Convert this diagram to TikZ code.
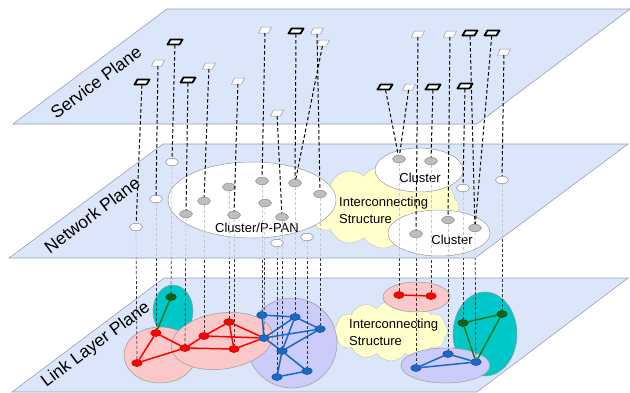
\documentclass[tikz,border=0pt]{standalone}
\usepackage{fontspec}
\setmainfont{Liberation Sans}
\usetikzlibrary{shapes.geometric,shapes.symbols}

\definecolor{planefill}{RGB}{220,230,250}
\definecolor{planeline}{RGB}{150,160,182}
\definecolor{cloudfill}{RGB}{255,255,204}
\definecolor{pinkfill}{RGB}{250,200,200}
\definecolor{tealfill}{RGB}{0,200,200}
\definecolor{lavfill}{RGB}{204,204,250}
\definecolor{panfill}{RGB}{190,190,190}
\definecolor{linkred}{RGB}{255,0,0}
\definecolor{linkblue}{RGB}{25,105,200}
\definecolor{linkgreen}{RGB}{25,120,25}

\pgfdeclarelayer{linkback}
\pgfdeclarelayer{downlinks}
\pgfdeclarelayer{netback}
\pgfsetlayers{linkback,downlinks,netback,main}

\tikzset{
  plane/.style={fill=planefill, draw=planeline, line width=0.6pt},
  planelabel/.style={rotate=36.7, font=\fontsize{17.5}{20}\selectfont},
  boxlabel/.style={font=\fontsize{13}{17}\selectfont, inner sep=0pt},
  cloudarea/.style={cloud, cloud puffs=12, cloud puff arc=110, cloud ignores aspect, fill=cloudfill, draw=black!22, line width=0.5pt},
  zone/.style={draw=black!40, line width=0.5pt},
  svcspot/.style={rectangle, minimum width=13pt, minimum height=6pt, inner sep=0pt},
  svcbold/.style={fill=white, draw=black, line width=1.8pt, line join=round},
  svcthin/.style={fill=white, draw=black!40, line width=0.5pt},
  pan/.style={ellipse, minimum width=13pt, minimum height=7.5pt, inner sep=0pt, draw=black!45, line width=0.5pt},
  pangray/.style={pan, fill=panfill},
  panwhite/.style={pan, fill=white},
  dev/.style={ellipse, minimum width=10.5pt, minimum height=7pt, inner sep=0pt, line width=0.5pt},
  devred/.style={dev, fill=linkred, draw=linkred!75!black},
  devblue/.style={dev, fill=linkblue, draw=linkblue!70!black},
  devgreen/.style={dev, fill=linkgreen!80!black, draw=linkgreen!60!black},
  redwire/.style={linkred, line width=1.5pt},
  bluewire/.style={linkblue, line width=1.5pt},
  greenwire/.style={linkgreen, line width=1.5pt},
  uplink/.style={black, line width=1pt, dash pattern=on 3.5pt off 2.5pt},
  downlink/.style={black!80, line width=0.7pt, dash pattern=on 3pt off 2pt},
  hiddenlink/.style={black!22, line width=0.7pt, dash pattern=on 3pt off 2pt}
}

\newcommand\downpairs{n1/g1, n2/r2, n3/r1, n4/r3, n5/r4, n6/r5, n9/r6, n7/b1, n8/b4,
  n14/b6, n10/b5, n11/b2, n13/b7, n12/b3, n15/r7, n21/b10, n16/r8, n19/b8,
  n17/g2, n20/b9, n18/g3}

\begin{document}
\begin{tikzpicture}[x=1pt, y=-1pt]
\useasboundingbox (0,0) rectangle (630,392);

% service plane
\draw[plane] (13,124) -- (477,124) -- (630,9) -- (167,9) -- cycle;
\node[planelabel] (svclabel) at (96,82) {Service Plane};

\foreach \nm/\x/\y in {s1/142/82, s3/175/42, s4/188/80, s9/296/31, s12/385/87,
    s14/433/87, s17/470/33, s18/492/33, s20/465/86}{
  \draw[svcbold, shift={(\x,\y)}] (-7.5,2.5) -- (4.5,2.5) -- (7.5,-2.5) -- (-4.5,-2.5) -- cycle;
  \node[svcspot] (\nm) at (\x,\y) {};
}
\foreach \nm/\x/\y in {s2/158/63, s5/209/66, s6/238/81, s7/265/30, s8/277/113,
    s10/317/31, s11/323/43, s13/409/87, s15/418/34, s16/450/34, s19/504/52}{
  \draw[svcthin, shift={(\x,\y)}] (-6.5,3) -- (3.5,3) -- (6.5,-3) -- (-3.5,-3) -- cycle;
  \node[svcspot] (\nm) at (\x,\y) {};
}

% network plane nodes
\foreach \nm/\x/\y in {n1/172/162, n2/156/199, n3/136/227, n13/307/237,
    n14/277/243, n17/463/188, n18/502/180}
  \node[panwhite] (\nm) at (\x,\y) {};
\foreach \nm/\x/\y in {n4/186/214, n5/204/201, n6/229/187, n7/262/181, n8/265/203,
    n9/234/215, n10/282/217, n11/295/183, n12/320/194, n15/399/159, n16/431/161,
    n19/448/220, n20/475/228, n21/416/234}
  \node[pangray] (\nm) at (\x,\y) {};

% link layer nodes
\foreach \nm/\x/\y in {r1/137/363, r2/156/333, r3/185/348, r4/204/336, r5/229/322,
    r6/234/349, r7/399/295, r8/431/296}
  \node[devred] (\nm) at (\x,\y) {};
\foreach \nm/\x/\y in {b1/262/315, b2/295/317, b3/320/329, b4/264/338, b5/282/351,
    b6/277/377, b7/307/371, b8/448/354, b9/476/362, b10/416/368}
  \node[devblue] (\nm) at (\x,\y) {};
\foreach \nm/\x/\y in {g1/171/297, g2/463/323, g3/502/314}
  \node[devgreen] (\nm) at (\x,\y) {};

\begin{pgfonlayer}{linkback}
  \fill[white] (0,0) rectangle (630,392);
  \draw[plane] (12,392) -- (477,392) -- (628,278) -- (164,278) -- cycle;
  \node[planelabel] (linklabel) at (96,345) {Link Layer Plane};
  \node[cloudarea, minimum width=114pt, minimum height=60pt] (linkcloud) at (391,331) {};
  \node[boxlabel, anchor=west, align=left] (linktext) at (349,332) {Interconnecting\\Structure};
  \draw[zone, fill=tealfill] (173,311) ellipse (20 and 26);
  \draw[zone, fill=lavfill] (292,343) ellipse (45 and 45);
  \draw[zone, fill=pinkfill] (160,355) ellipse (36 and 28);
  \draw[zone, fill=pinkfill, rotate around={8:(222,341)}] (222,341) ellipse (51 and 28);
  \draw[zone, fill=pinkfill] (416.5,297) ellipse (33.5 and 15);
  \draw[zone, fill=tealfill] (485,334) ellipse (32 and 42);
  \draw[zone, fill=lavfill] (445.5,365.5) ellipse (44.5 and 17.5);
  \foreach \a/\b in {r1/r2, r1/r3, r2/r3, r3/r4, r4/r5, r5/r6, r3/r6, r4/b4, r5/b4,
      r6/b4, r7/r8}
    \draw[redwire] (\a) -- (\b);
  \foreach \a/\b in {b1/b2, b1/b4, b2/b4, b2/b5, b2/b3, b3/b4, b3/b5, b4/b5, b5/b6,
      b5/b7, b6/b7, b10/b8, b8/b9, b10/b9}
    \draw[bluewire] (\a) -- (\b);
  \foreach \a/\b in {g1/r2, g2/g3, g2/b9, g3/b9}
    \draw[greenwire] (\a) -- (\b);
\end{pgfonlayer}

\begin{pgfonlayer}{downlinks}
  \foreach \a/\b in \downpairs
    \draw[downlink] (\a) -- (\b);
\end{pgfonlayer}

\begin{pgfonlayer}{netback}
  \draw[plane] (9,258) -- (475,258) -- (628,144) -- (163,144) -- cycle;
  \node[planelabel] (netlabel) at (92,215) {Network Plane};
  \node[cloudarea, minimum width=152pt, minimum height=82pt] (netcloud) at (383,207) {};
  \draw[zone, fill=white] (252,200) ellipse (84 and 38);
  \draw[zone, fill=white] (419,170) ellipse (44 and 22);
  \draw[zone, fill=white] (439,233) ellipse (51 and 23);
  \node[boxlabel] (panlabel) at (257,228) {Cluster/P-PAN};
  \node[boxlabel] (toplabel) at (420,178) {Cluster};
  \node[boxlabel] (lowlabel) at (452,240) {Cluster};
  \node[boxlabel, anchor=west, align=left] (nettext) at (339,210) {Interconnecting\\Structure};
  \begin{scope}
    \clip (9,258) -- (475,258) -- (628,144) -- (163,144) -- cycle;
    \foreach \a/\b in \downpairs
      \draw[hiddenlink] (\a) -- (\b);
  \end{scope}
\end{pgfonlayer}

% service to network
\foreach \a/\b in {s1/n3, s2/n2, s3/n1, s4/n4, s5/n5, s6/n9, s7/n7, s8/n10, s9/n11,
    s10/n12, s11/n11, s12/n15, s13/n15, s14/n16, s15/n21, s16/n19, s17/n20,
    s18/n20, s19/n18, s20/n17}
  \draw[uplink] (\a) -- (\b);
\end{tikzpicture}
\end{document}
